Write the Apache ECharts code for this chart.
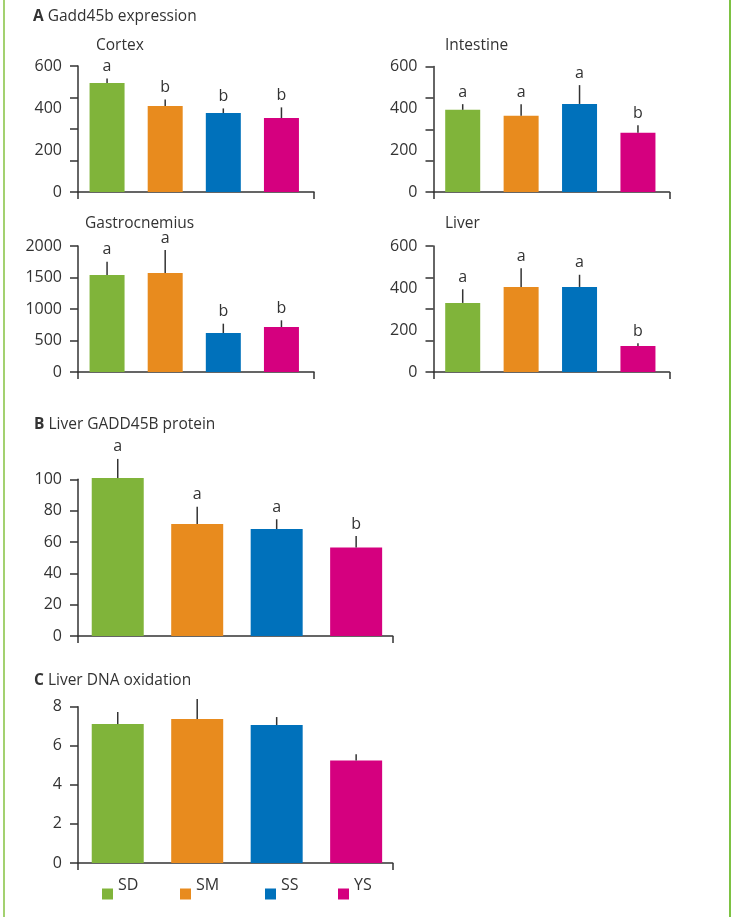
<!DOCTYPE html>
<html>
<head>
<meta charset="utf-8">
<script src="https://cdn.jsdelivr.net/npm/echarts@6/dist/echarts.min.js"></script>
<style>
html,body{margin:0;padding:0;background:#fff;}
#wrap{position:relative;width:731px;height:917px;overflow:hidden;}
#chart{position:absolute;left:0;top:0;width:731px;height:917px;}
#bl{position:absolute;left:3px;top:0;width:2px;height:917px;background:#a3d170;}
#br{position:absolute;left:729px;top:0;width:2px;height:917px;background:#7dc243;}
</style>
</head>
<body>
<div id="wrap"><div id="chart"></div><div id="bl"></div><div id="br"></div></div>
<script>
// ---- data ----
const groups = ['SD', 'SM', 'SS', 'YS'];

const cortexMean = [519, 410, 376, 352];
const cortexSE = [22, 31, 22, 51];
const cortexLetters = ['a', 'b', 'b', 'b'];

const intestineMean = [393, 364, 421, 283];
const intestineSE = [27, 56, 90, 36];
const intestineLetters = ['a', 'a', 'a', 'b'];

const gastroMean = [1540, 1571, 619, 714];
const gastroSE = [211, 366, 148, 106];
const gastroLetters = ['a', 'a', 'b', 'b'];

const liverMean = [329, 405, 405, 124];
const liverSE = [65, 89, 58, 13];
const liverLetters = ['a', 'a', 'a', 'b'];

const proteinMean = [100.8, 71.5, 68.3, 56.4];
const proteinSE = [12.2, 11.0, 6.2, 7.4];
const proteinLetters = ['a', 'a', 'a', 'b'];

const oxidationMean = [7.11, 7.37, 7.06, 5.24];
const oxidationSE = [0.62, 1.02, 0.41, 0.32];
const oxidationLetters = ['', '', '', ''];

const ticks600 = [0, 150, 300, 450, 600];
const ticks2000 = [0, 500, 1000, 1500, 2000];
const ticks100 = [0, 20, 40, 60, 80, 100];
const ticks8 = [0, 2, 4, 6, 8];

// ---- styles ----
const colors = ['#80b43a', '#e88b1e', '#0071bb', '#d5007f'];
const FONT = '"Open Sans", "Noto Sans", sans-serif';
const TXT = '#333333';
const AX = '#333333';

const panels = [
  {mean: cortexMean, se: cortexSE, letters: cortexLetters, grid: {left: 78, top: 66, width: 236, height: 126}, xMax: 3.56, yMax: 600, yInt: 200, ticks: ticks600, barW: 35},
  {mean: intestineMean, se: intestineSE, letters: intestineLetters, grid: {left: 433.5, top: 66.5, width: 236, height: 125.5}, xMax: 3.54, yMax: 600, yInt: 200, ticks: ticks600, barW: 35},
  {mean: gastroMean, se: gastroSE, letters: gastroLetters, grid: {left: 78, top: 246, width: 236, height: 126}, xMax: 3.56, yMax: 2000, yInt: 500, ticks: ticks2000, barW: 35},
  {mean: liverMean, se: liverSE, letters: liverLetters, grid: {left: 433.5, top: 246, width: 236, height: 126}, xMax: 3.54, yMax: 600, yInt: 200, ticks: ticks600, barW: 35},
  {mean: proteinMean, se: proteinSE, letters: proteinLetters, grid: {left: 78, top: 479.3, width: 314.7, height: 156.7}, xMax: 3.46, yMax: 100, yInt: 20, ticks: ticks100, barW: 52},
  {mean: oxidationMean, se: oxidationSE, letters: oxidationLetters, grid: {left: 78, top: 706.7, width: 314.7, height: 156.3}, xMax: 3.46, yMax: 8, yInt: 2, ticks: ticks8, barW: 52}
];

const grids = [], xAxes = [], yAxes = [], series = [];
panels.forEach(function (p, k) {
  grids.push(Object.assign({containLabel: false, outerBoundsMode: 'none'}, p.grid));
  xAxes.push({
    gridIndex: k, type: 'value', min: -0.5, max: p.xMax,
    axisLine: {show: true, onZero: false, lineStyle: {color: AX, width: 1.5}},
    axisTick: {show: true, length: 7, customValues: [-0.5, p.xMax], lineStyle: {color: AX, width: 1.5}},
    axisLabel: {show: false}, splitLine: {show: false}
  });
  yAxes.push({
    gridIndex: k, type: 'value', min: 0, max: p.yMax, interval: p.yInt,
    axisLine: {show: true, onZero: false, lineStyle: {color: AX, width: 1.5}},
    axisTick: {show: true, length: 8, customValues: p.ticks, lineStyle: {color: AX, width: 1.5}},
    axisLabel: {show: true, margin: 16, color: TXT, fontSize: 16, fontFamily: FONT,
      formatter: function (v) { return String(v); }},
    splitLine: {show: false}
  });
  groups.forEach(function (g, i) {
    series.push({
      type: 'bar', name: g, xAxisIndex: k, yAxisIndex: k,
      barWidth: p.barW, barGap: '-100%', clip: false,
      itemStyle: {color: colors[i]},
      data: [[i, p.mean[i]]], z: 2
    });
  });
  const letters = p.letters;
  series.push({
    type: 'custom', xAxisIndex: k, yAxisIndex: k, z: 3, clip: false,
    data: p.mean.map(function (m, i) { return [i, m, m + p.se[i]]; }),
    renderItem: function (params, api) {
      const x = api.value(0), m = api.value(1), t = api.value(2);
      const p0 = api.coord([x, m]), p1 = api.coord([x, t]);
      const children = [{
        type: 'line',
        shape: {x1: p0[0], y1: p0[1], x2: p1[0], y2: p1[1]},
        style: {stroke: AX, lineWidth: 1.5}
      }];
      const L = letters[params.dataIndex];
      if (L) {
        children.push({
          type: 'text', x: p1[0], y: p1[1] - 12,
          style: {text: L, fill: TXT, font: '16px ' + FONT, align: 'center', verticalAlign: 'middle'}
        });
      }
      return {type: 'group', children: children};
    }
  });
});

function ttl(text, left, top) {
  return {
    text: text, left: left, top: top, padding: 0,
    textStyle: {color: TXT, fontSize: 15.5, fontWeight: 'normal', fontFamily: FONT, lineHeight: 18,
      rich: {b: {fontWeight: 'bold', fontSize: 15.5, color: TXT, fontFamily: FONT, lineHeight: 18}}}
  };
}

const titles = [
  ttl('{b|A} Gadd45b expression', 33, 8),
  ttl('Cortex', 96, 36.5),
  ttl('Intestine', 445, 36.5),
  ttl('Gastrocnemius', 85, 215),
  ttl('Liver', 445, 215),
  ttl('{b|B} Liver GADD45B protein', 34, 416),
  ttl('{b|C} Liver DNA oxidation', 34, 672)
];

const legendLefts = [102, 180, 265, 338];
const legends = groups.map(function (g, i) {
  return {
    data: [g], left: legendLefts[i], top: 877.5, padding: 0,
    icon: 'rect', itemWidth: 11, itemHeight: 11,
    formatter: '{t|{name}}',
    textStyle: {color: TXT, fontSize: 16, fontFamily: FONT,
      rich: {t: {color: TXT, fontSize: 16, fontFamily: FONT, lineHeight: 18, padding: [0, 0, 17, 0]}}}
  };
});

const chart = echarts.init(document.getElementById('chart'), null, {renderer: 'canvas'});
chart.setOption({
  animation: false,
  backgroundColor: '#ffffff',
  textStyle: {fontFamily: FONT},
  title: titles,
  legend: legends,
  tooltip: {show: false},
  grid: grids,
  xAxis: xAxes,
  yAxis: yAxes,
  series: series
});
</script>
</body>
</html>
